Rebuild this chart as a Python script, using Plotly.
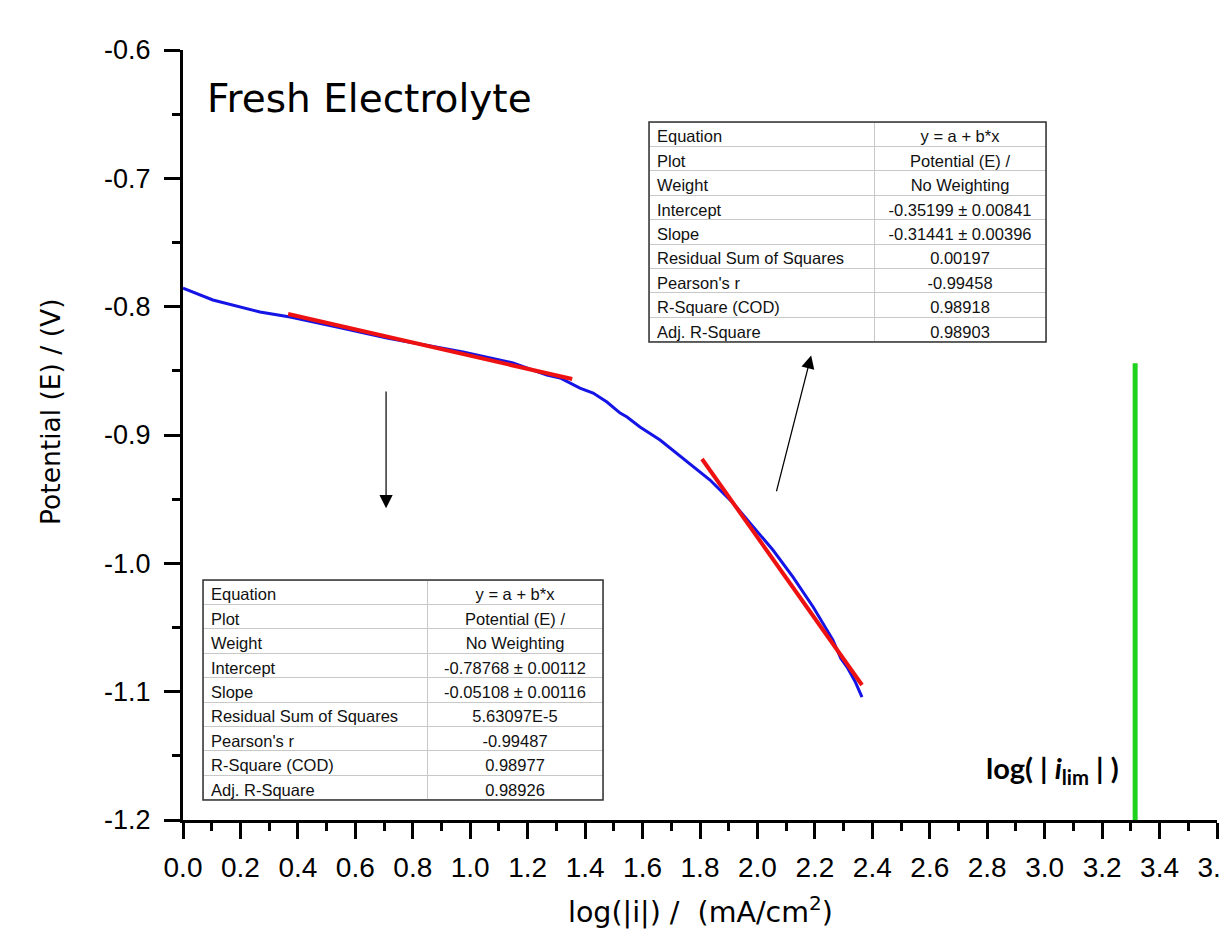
import plotly.graph_objects as go

# ---- data ----
curve_x = [0.000, 0.104, 0.268, 0.373, 0.540, 0.710, 0.975, 1.149, 1.267, 1.313, 1.382, 1.428,
           1.476, 1.522, 1.546, 1.591, 1.661, 1.755, 1.835, 1.915, 1.985, 2.054, 2.124,
           2.194, 2.263, 2.290, 2.312, 2.340, 2.364]
curve_y = [-0.7855, -0.7948, -0.8042, -0.8081, -0.8160, -0.8244, -0.8353, -0.8439, -0.8533,
           -0.8556, -0.8634, -0.8673, -0.8743, -0.8829, -0.8860, -0.8938, -0.9039, -0.9210,
           -0.9351, -0.9530, -0.9717, -0.9896, -1.0107, -1.0340, -1.0598, -1.0740, -1.0808,
           -1.0920, -1.1042]

fit1_x = [0.366, 1.355]
fit1_y = [-0.8057, -0.8564]
fit2_x = [1.807, 2.364]
fit2_y = [-0.9187, -1.0948]

ilim_x = [3.315, 3.315]
ilim_y = [-0.844, -1.2]

table_labels = ["Equation", "Plot", "Weight", "Intercept", "Slope",
                "Residual Sum of Squares", "Pearson's r", "R-Square (COD)", "Adj. R-Square"]
fit1_values = ["y = a + b*x", "Potential (E) /", "No Weighting", "-0.78768 ± 0.00112",
               "-0.05108 ± 0.00116", "5.63097E-5", "-0.99487", "0.98977", "0.98926"]
fit2_values = ["y = a + b*x", "Potential (E) /", "No Weighting", "-0.35199 ± 0.00841",
               "-0.31441 ± 0.00396", "0.00197", "-0.99458", "0.98918", "0.98903"]

x_ticks = [round(0.2 * k, 1) for k in range(19)]
y_ticks = [-1.2, -1.1, -1.0, -0.9, -0.8, -0.7, -0.6]

# page layout (the html body adds an 8px offset)
OFF = 8
W, H = 1227, 937
PL, PR, PT, PB = 183, 1217, 50, 820          # plot area in page pixels
PW, PH = PR - PL, PB - PT
ML, MT = PL - OFF, PT - OFF
MR = W - ML - PW
MB = H - MT - PH


def px_dom_x(a, b):
    return [(a - PL) / PW, (b - PL) / PW]


def px_dom_y(top, bottom):
    return [(PB - bottom) / PH, (PB - top) / PH]


fig = go.Figure()

fig.add_trace(go.Scatter(x=curve_x, y=curve_y, mode="lines",
                         line=dict(color="#1414e6", width=3), showlegend=False))
fig.add_trace(go.Scatter(x=fit1_x, y=fit1_y, mode="lines",
                         line=dict(color="#ee1111", width=4), showlegend=False))
fig.add_trace(go.Scatter(x=fit2_x, y=fit2_y, mode="lines",
                         line=dict(color="#ee1111", width=4), showlegend=False))
fig.add_trace(go.Scatter(x=ilim_x, y=ilim_y, mode="lines",
                         line=dict(color="#1ed21e", width=5), showlegend=False))

TFONT = dict(family="Liberation Sans, Arial", size=16.5, color="#111")


def add_table(values, xd, yd, colw):
    fig.add_trace(go.Table(
        domain=dict(x=xd, y=yd),
        columnwidth=colw,
        header=dict(values=[table_labels[0], values[0]],
                    align=["left", "center"], height=24.4,
                    fill_color="white", line=dict(color="#c8c8c8", width=1), font=TFONT),
        cells=dict(values=[table_labels[1:], values[1:]],
                   align=["left", "center"], height=24.4,
                   fill_color="white", line=dict(color="#c8c8c8", width=1), font=TFONT),
    ))


add_table(fit1_values, px_dom_x(203, 603), px_dom_y(580, 803), [224, 176])
add_table(fit2_values, px_dom_x(649, 1046), px_dom_y(122, 345), [225, 172])

fig.update_layout(
    width=W, height=H,
    margin=dict(l=ML, r=MR, t=MT, b=MB, autoexpand=False),
    paper_bgcolor="white", plot_bgcolor="white",
    showlegend=False,
    xaxis=dict(range=[0, 3.6], tickvals=x_ticks, ticktext=[f"{v:.1f}" for v in x_ticks],
               showgrid=False, zeroline=False, showline=True, linecolor="black", linewidth=3,
               ticks="outside", ticklen=16, tickwidth=2.5, tickcolor="black",
               minor=dict(dtick=0.1, ticks="outside", ticklen=8, tickwidth=2.5, tickcolor="black"),
               tickfont=dict(family="Liberation Sans, Arial", size=28, color="black"),
               ticklabelstandoff=4, automargin=False, ticklabeloverflow="allow"),
    yaxis=dict(range=[-1.2, -0.6], tickvals=y_ticks, ticktext=[f"{v:.1f}" for v in y_ticks],
               showgrid=False, zeroline=False, showline=True, linecolor="black", linewidth=3,
               ticks="outside", ticklen=16, tickwidth=2.5, tickcolor="black",
               minor=dict(dtick=0.05, ticks="outside", ticklen=8, tickwidth=2.5, tickcolor="black"),
               tickfont=dict(family="Liberation Sans, Arial", size=27, color="black"),
               ticklabelstandoff=8, automargin=False),
)

# outer borders of the tables
for (x0, x1, y0, y1) in [(203, 603, 580, 800), (649, 1046, 122, 342)]:
    dx = px_dom_x(x0, x1)
    dy = px_dom_y(y0, y1)
    fig.add_shape(type="rect", xref="paper", yref="paper", x0=dx[0], x1=dx[1], y0=dy[0], y1=dy[1],
                  line=dict(color="#333333", width=1.5), layer="above")

# axis titles
fig.add_annotation(x=(700 - PL) / PW, y=(PB - 910) / PH, xref="paper", yref="paper",
                   text="log(|i|) /\u00a0 (mA/cm<sup>2</sup>)", showarrow=False,
                   xanchor="center", yanchor="middle",
                   font=dict(family="DejaVu Sans", size=28.5, color="black"))
fig.add_annotation(x=(50 - PL) / PW, y=(PB - 412) / PH, xref="paper", yref="paper",
                   text="Potential (E) / (V)", showarrow=False, textangle=-90,
                   xanchor="center", yanchor="middle",
                   font=dict(family="DejaVu Sans", size=26.5, color="black"))

fig.add_annotation(x=0.075, y=-0.6374, xref="x", yref="y", text="Fresh Electrolyte",
                   showarrow=False, xanchor="left", yanchor="middle",
                   font=dict(family="DejaVu Sans", size=39, color="black"))

fig.add_annotation(x=3.265, y=-1.161, xref="x", yref="y",
                   text="<b>log( | <i>i</i><sub>lim</sub> | )</b>",
                   showarrow=False, xanchor="right", yanchor="middle",
                   font=dict(family="Lato, Noto Sans", size=29, color="black"))

# arrows
fig.add_annotation(x=0.707, y=-0.957, ax=0.707, ay=-0.865, xref="x", yref="y",
                   axref="x", ayref="y", text="", showarrow=True,
                   arrowhead=2, arrowsize=2.2, arrowwidth=1.2, arrowcolor="black")
fig.add_annotation(x=2.187, y=-0.838, ax=2.065, ay=-0.945, xref="x", yref="y",
                   axref="x", ayref="y", text="", showarrow=True,
                   arrowhead=2, arrowsize=2.2, arrowwidth=1.2, arrowcolor="black")

fig.write_html("out.html")
